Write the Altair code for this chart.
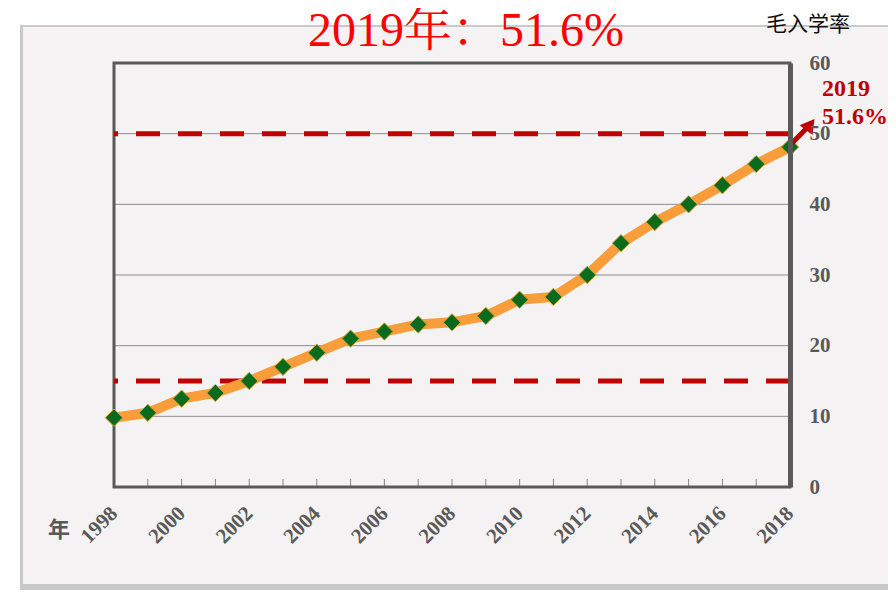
import altair as alt
import pandas as pd

years = list(range(1998, 2019))
rates = [9.8, 10.5, 12.5, 13.3, 15.0, 17.0, 19.0, 21.0, 22.0, 23.0, 23.3,
         24.2, 26.5, 26.9, 30.0, 34.5, 37.5, 40.0, 42.7, 45.7, 48.1]
ref_lines = [15, 50]
grid_values = [10, 20, 30, 40, 50]
label_years = list(range(1998, 2019, 2))
y_ticks = [0, 10, 20, 30, 40, 50, 60]
note_x = [2018.95, 2018.95]
note_y = [55.3, 51.3]
note_text = ["2019", "51.6%"]
arrow_x = [2018.05]
arrow_x2 = [2018.6]
arrow_y = [48.6]
arrow_y2 = [51.3]

W, H = 676, 424
SERIF = "Liberation Serif, Noto Serif CJK SC, Noto Sans CJK SC"
CJK = "Noto Sans CJK SC"
GRAY = "#595959"
DRED = "#c00000"

df = pd.DataFrame({"year": years, "rate": rates})
one = pd.DataFrame({"a": [0]})

xscale = alt.Scale(domain=[1998, 2018], nice=False, zero=False)
yscale = alt.Scale(domain=[0, 60], nice=False)

xenc = alt.X("year:Q", scale=xscale, axis=alt.Axis(
    values=label_years, format="d", labelAngle=-45, labelAlign="right",
    labelBaseline="middle", labelPadding=23, ticks=False, domain=False,
    grid=False, title=None, zindex=1, labelFontSize=21, labelColor=GRAY,
    labelFont=SERIF, labelFontWeight="bold", labelOverlap=False,
    labelFlush=False))
yenc = alt.Y("rate:Q", scale=yscale, axis=alt.Axis(
    orient="right", values=y_ticks, ticks=False, grid=False, domain=True,
    domainColor=GRAY, domainWidth=5, labelPadding=19, labelFontSize=21,
    labelColor=GRAY, labelFont=SERIF, labelFontWeight="bold", title=None,
    zindex=1))

shadow = alt.Chart(one).mark_rect(color="#c9c9c9").encode(
    x=alt.value(-94), x2=alt.value(790), y=alt.value(-38), y2=alt.value(530))
panel = alt.Chart(one).mark_rect(color="#f4f2f2").encode(
    x=alt.value(-91), x2=alt.value(790), y=alt.value(-36), y2=alt.value(521))

grid = alt.Chart(pd.DataFrame({"g": grid_values})).mark_rule(
    color="#8c8c8c", strokeWidth=1).encode(y=alt.Y("g:Q", scale=yscale))

frame = alt.Chart(one).mark_rect(filled=False, stroke=GRAY, strokeWidth=3).encode(
    x=alt.value(0), x2=alt.value(W), y=alt.value(0), y2=alt.value(H))

ticks = alt.Chart(pd.DataFrame({"year": years})).mark_tick(
    orient="vertical", size=8, thickness=1, color=GRAY, yOffset=-4).encode(
    x=alt.X("year:Q", scale=xscale), y=alt.datum(0))

refs = alt.Chart(pd.DataFrame({"r": ref_lines})).mark_rule(
    color=DRED, strokeWidth=5, strokeDash=[24, 18]).encode(
    y=alt.Y("r:Q", scale=yscale))

line = alt.Chart(df).mark_line(color="#f99d3a", strokeWidth=10).encode(
    x=xenc, y=yenc)
pts = alt.Chart(df).mark_point(shape="diamond", filled=True, size=300,
                               color="#0a6b1f", stroke="#d9a02a",
                               strokeWidth=1, opacity=1).encode(
    x="year:Q", y="rate:Q")

arrow = alt.Chart(pd.DataFrame({"x": arrow_x, "x2": arrow_x2, "y": arrow_y,
                                "y2": arrow_y2})).mark_rule(
    color=DRED, strokeWidth=5).encode(x="x:Q", x2="x2:Q", y="y:Q", y2="y2:Q")
head = alt.Chart(pd.DataFrame({"x": arrow_x2, "y": arrow_y2})).mark_point(
    shape="triangle-up", filled=True, size=260, angle=37, color=DRED,
    opacity=1).encode(x="x:Q", y="y:Q")

notes = alt.Chart(pd.DataFrame({"x": note_x, "y": note_y, "t": note_text})).mark_text(
    align="left", baseline="alphabetic", font=SERIF, fontWeight="bold",
    fontSize=24, color=DRED).encode(x="x:Q", y="y:Q", text="t:N")

title = alt.Chart(one).mark_text(
    align="center", baseline="alphabetic", font=SERIF, fontSize=48,
    color="#ff0000").encode(x=alt.value(352), y=alt.value(-17),
                            text=alt.value("2019年：51.6%"))
ytitle = alt.Chart(one).mark_text(
    align="left", baseline="alphabetic", font=CJK, fontSize=21,
    color="#111111").encode(x=alt.value(652), y=alt.value(-32),
                            text=alt.value("毛入学率"))
xtitle = alt.Chart(one).mark_text(
    align="center", baseline="middle", font=CJK, fontSize=22,
    fontWeight="bold", color=GRAY).encode(x=alt.value(-55), y=alt.value(467),
                                          text=alt.value("年"))

chart = alt.layer(
    shadow, panel, grid, frame, ticks, refs, line, pts, arrow, head, notes,
    title, ytitle, xtitle
).properties(
    width=W, height=H,
    autosize=alt.AutoSizeParams(type="none"),
    padding={"left": 106, "top": 55, "right": 98, "bottom": 103},
    background="white",
).configure_view(strokeWidth=0)

chart.save("out.html", embed_options={"renderer": "svg", "actions": False})
